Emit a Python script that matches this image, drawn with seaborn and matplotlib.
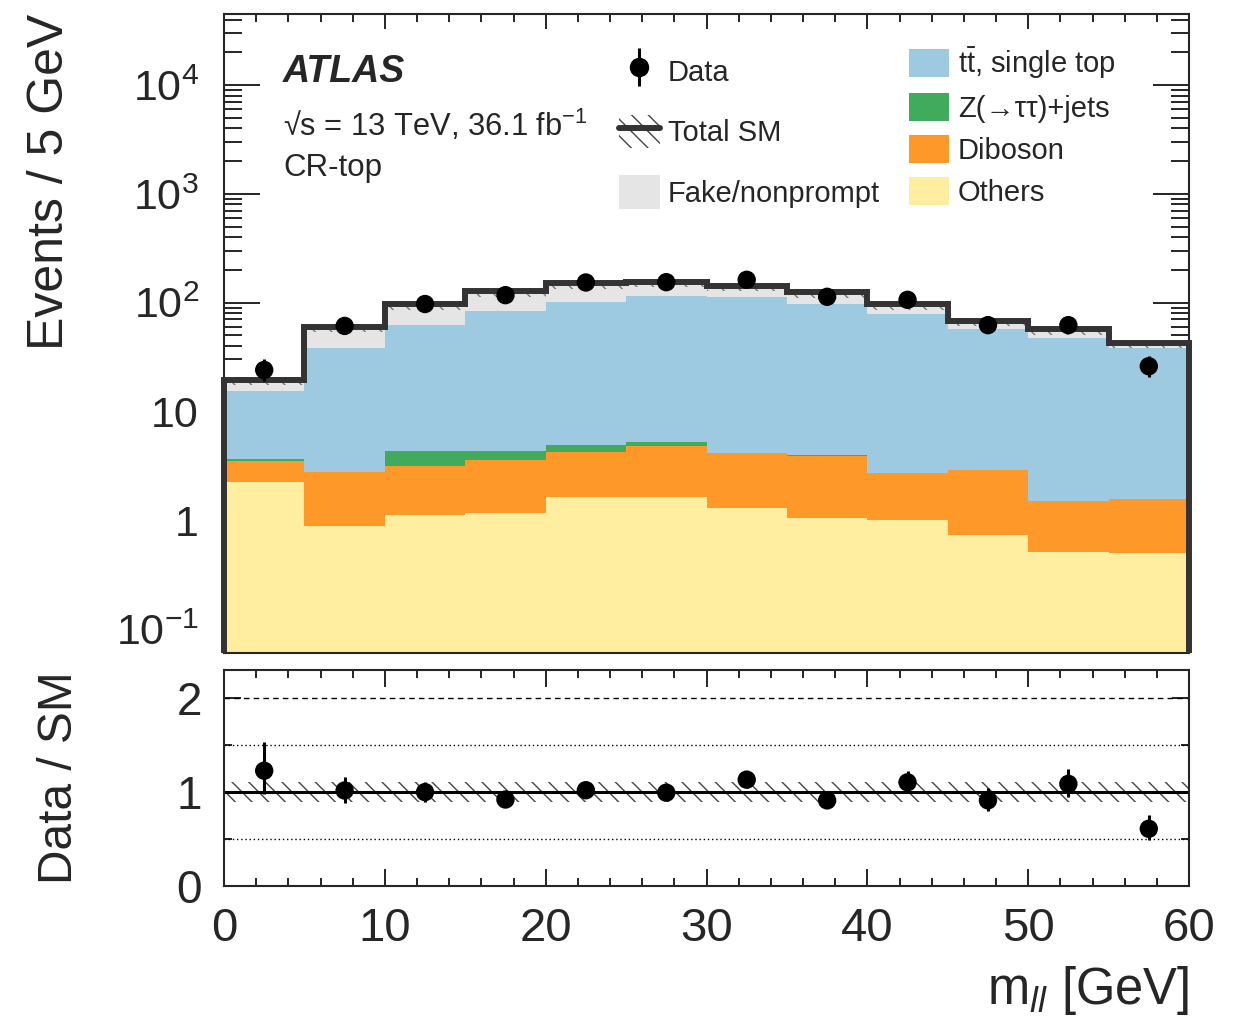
import numpy as np
import matplotlib
matplotlib.use("Agg")
import matplotlib.pyplot as plt
import seaborn as sns
from matplotlib.patches import Patch
from matplotlib.lines import Line2D
from matplotlib.ticker import MultipleLocator, LogLocator, FixedLocator, FixedFormatter, NullFormatter

# binning: m_ll in 5 GeV bins from 0 to 60
edges = np.arange(0, 65, 5)
centers = edges[:-1] + 2.5

# background expectations per bin
others = [2.26, 0.88, 1.12, 1.16, 1.64, 1.62, 1.28, 1.04, 1.00, 0.73, 0.51, 0.50]
diboson = [1.22, 1.87, 2.05, 2.42, 2.63, 3.16, 2.84, 2.88, 1.71, 2.16, 0.98, 1.06]
ztautau = [0.17, 0.03, 1.13, 0.75, 0.65, 0.39, 0.02, 0.06, 0.01, 0.01, 0.01, 0.01]
ttbar = [11.6, 35.8, 57.7, 79.2, 97.1, 108.8, 108.9, 93.0, 76.3, 54.1, 46.0, 36.8]
fakes = [4.3, 21.4, 35.0, 43.5, 48.0, 41.0, 30.0, 27.0, 17.0, 11.0, 9.5, 4.3]

# observed data and its uncertainties
data = [24, 61, 97, 117, 153, 154, 162, 113, 106, 62, 62, 26]
data_err_up = [6.0, 8.9, 10.9, 11.9, 13.4, 13.4, 13.8, 11.7, 11.3, 8.9, 8.9, 6.2]
data_err_dn = [4.9, 7.8, 9.8, 10.8, 12.4, 12.4, 12.7, 10.6, 10.3, 7.9, 7.9, 5.1]

# relative uncertainty on total SM
sys_frac = [0.11, 0.11, 0.11, 0.11, 0.11, 0.11, 0.11, 0.11, 0.11, 0.11, 0.11, 0.11]

stack_labels = ['Others', 'Diboson', r'Z(→ττ)+jets', r't$\bar{\mathrm{t}}$, single top', 'Fake/nonprompt']
stack_colors = ['#FFEDA0', '#FE9929', '#41AB5D', '#9ECAE1', '#E5E5E5']

sns.set_theme(style="ticks")
plt.rcParams['font.family'] = ['Liberation Sans', 'DejaVu Sans']
plt.rcParams['mathtext.fontset'] = 'custom'
plt.rcParams['mathtext.rm'] = 'Liberation Sans'
plt.rcParams['mathtext.it'] = 'Liberation Sans:italic'
plt.rcParams['mathtext.bf'] = 'Liberation Sans:bold'
plt.rcParams['hatch.linewidth'] = 1.0
plt.rcParams['axes.linewidth'] = 1.5

W, H = 1246, 1017
fig = plt.figure(figsize=(W / 100, H / 100), dpi=100)
ax = fig.add_axes([224 / W, 1 - 653 / H, 965 / W, 639 / H])
rax = fig.add_axes([224 / W, 1 - 886 / H, 965 / W, 216 / H])

ymin, ymax = 0.06, 4.5e4
sm_color = '#333333'
hatch_color = '#444444'

# stacked backgrounds
base = np.full(len(centers), 1e-3)
for vals, col in zip([others, diboson, ztautau, ttbar, fakes], stack_colors):
    top = base + np.array(vals)
    ax.stairs(top, edges, baseline=base, fill=True, color=col, lw=0, zorder=1)
    base = top
total = base
sys = np.array(sys_frac)

# uncertainty band on the total (mostly hidden under the outline)
ax.fill_between(edges, np.append(total * (1 - sys), total[-1] * (1 - sys[-1])),
                np.append(total, total[-1]),
                step='post', facecolor='none', edgecolor='#777777', hatch='\\\\', lw=0, zorder=2)
ax.stairs(total, edges, baseline=ymin, fill=False, color=sm_color, lw=4.3, zorder=3, clip_on=False)

# data
ax.errorbar(centers, data, yerr=[data_err_dn, data_err_up], fmt='none', ecolor='black', elinewidth=2.2, capsize=0, zorder=4)
sns.scatterplot(x=centers, y=data, ax=ax, color='black', s=175, edgecolor='none', zorder=5, legend=False)

ax.set_yscale('log')
ax.set_xlim(0, 60)
ax.set_ylim(ymin, ymax)
ax.yaxis.set_major_locator(FixedLocator([0.1, 1, 10, 100, 1000, 10000]))
ax.yaxis.set_major_formatter(FixedFormatter(['$10^{-1}$', '1', '10', '$10^{2}$', '$10^{3}$', '$10^{4}$']))
ax.yaxis.set_minor_locator(LogLocator(base=10, subs=np.arange(2, 10), numticks=20))
ax.yaxis.set_minor_formatter(NullFormatter())
ax.xaxis.set_major_locator(MultipleLocator(10))
ax.xaxis.set_minor_locator(MultipleLocator(2))
ax.tick_params(axis='both', which='both', direction='in', top=True, right=True, width=1.2, color='black')
ax.tick_params(axis='x', which='major', length=11, labelbottom=False)
ax.tick_params(axis='x', which='minor', length=5.5)
ax.tick_params(axis='y', which='major', length=26, labelsize=31, pad=18)
ax.tick_params(axis='y', which='minor', length=13)
ax.set_ylabel('Events / 5 GeV', fontsize=36, loc='top')
ax.yaxis.set_label_coords(-0.156, 1.0)

# legends
h_data = (Line2D([], [], color='black', marker='|', ms=28, mew=2.2, ls='none'),
          Line2D([], [], color='black', marker='o', ms=13, ls='none'))
h_sm = (Patch(facecolor='white', edgecolor=hatch_color, hatch='\\\\', lw=0),
        Line2D([], [], color=sm_color, lw=4.3))
h_fake = Patch(facecolor=stack_colors[4], lw=0)
leg1 = ax.legend([h_data, h_sm, h_fake], ['Data', 'Total SM', 'Fake/nonprompt'],
                 loc='upper left', bbox_to_anchor=(619 / W, 1 - 54 / H), bbox_transform=fig.transFigure,
                 frameon=False, fontsize=21, borderpad=0, borderaxespad=0, handlelength=1.4,
                 handleheight=1.4, handletextpad=0.28, labelspacing=0.92)
ax.add_artist(leg1)
ax.legend([Patch(facecolor=c, lw=0) for c in stack_colors[3::-1]], stack_labels[3::-1],
          loc='upper left', bbox_to_anchor=(909 / W, 1 - 45 / H), bbox_transform=fig.transFigure,
          frameon=False, fontsize=21, borderpad=0, borderaxespad=0, handlelength=1.38,
          handleheight=1.1, handletextpad=0.3, labelspacing=0.42)

fig.text(283 / W, 1 - 72 / H, 'ATLAS', fontsize=27, fontweight='bold', fontstyle='italic', va='center')
fig.text(283 / W, 1 - 125 / H, '√s = 13 TeV, 36.1 fb$^{-1}$', fontsize=22.2, va='center')
fig.text(283 / W, 1 - 168 / H, 'CR-top', fontsize=22.5, va='center')

# ratio panel
ratio = np.array(data) / total
ratio_up = np.array(data_err_up) / total
ratio_dn = np.array(data_err_dn) / total
rax.fill_between(edges, np.append(1 - sys, 1 - sys[-1]), np.append(1 + sys, 1 + sys[-1]),
                 step='post', facecolor='none', edgecolor=hatch_color, hatch='\\\\', lw=0, zorder=1)
rax.axhline(2.0, color='black', lw=1.0, ls=(0, (4, 3)), zorder=1)
rax.axhline(1.5, color='black', lw=1.0, ls=(0, (1, 2)), zorder=1)
rax.axhline(0.5, color='black', lw=1.0, ls=(0, (1, 2)), zorder=1)
rax.axhline(1.0, color='black', lw=2.2, zorder=2)
rax.errorbar(centers, ratio, yerr=[ratio_dn, ratio_up], fmt='none', ecolor='black', elinewidth=2.2, capsize=0, zorder=3)
sns.scatterplot(x=centers, y=ratio, ax=rax, color='black', s=175, edgecolor='none', zorder=4, legend=False)

rax.set_xlim(0, 60)
rax.set_ylim(0, 2.3)
rax.yaxis.set_major_locator(MultipleLocator(1))
rax.yaxis.set_minor_locator(MultipleLocator(0.5))
rax.xaxis.set_major_locator(MultipleLocator(10))
rax.xaxis.set_minor_locator(MultipleLocator(2))
rax.tick_params(axis='both', which='both', direction='in', top=True, right=True, width=1.2, color='black')
rax.tick_params(axis='x', which='major', length=12, labelsize=34, pad=15)
rax.tick_params(axis='x', which='minor', length=6)
rax.tick_params(axis='y', which='major', length=12, labelsize=33, pad=16)
rax.tick_params(axis='y', which='minor', length=6)
rax.set_ylabel('Data / SM', fontsize=34.5)
rax.yaxis.set_label_coords(-0.147, 0.5)
rax.set_xlabel(r'm$_{\mathit{ll}}$ [GeV]', fontsize=36.5, loc='right')
rax.xaxis.set_label_coords(1.0, -0.36)

fig.savefig('out.png', dpi=100)
